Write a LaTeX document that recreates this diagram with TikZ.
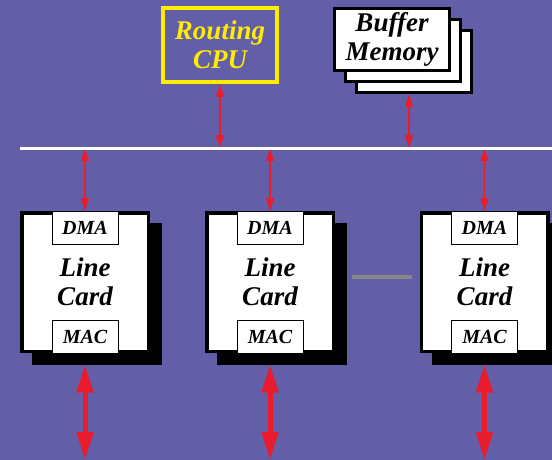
\documentclass[tikz,border=0pt]{standalone}
\usepackage{fontspec}
\setmainfont{Liberation Serif}
\usepackage{tikz}
\usetikzlibrary{arrows.meta,shapes,positioning,shadows,calc}
\usepackage{xcolor}
\definecolor{rtbg}{RGB}{99,94,168}
\definecolor{rtred}{RGB}{232,28,44}
\definecolor{rtyellow}{RGB}{255,236,0}
\definecolor{rtgray}{RGB}{136,136,136}
\tikzstyle{link} = [line width=1.2pt,{Triangle[length=13pt,width=8pt]}-{Triangle[length=13pt,width=8pt]},color=rtred]
\tikzstyle{port} = [line width=5pt,{Triangle[length=28pt,width=16pt]}-{Triangle[length=28pt,width=16pt]},color=rtred]
\tikzstyle{bigtext} = [font=\fontsize{27}{29.5}\selectfont\bfseries\itshape, align=center, inner sep=0pt]
\tikzstyle{card} = [bigtext, rectangle, draw=black, fill=white, line width=3.5pt, minimum width=126.5pt, minimum height=138.5pt,
    drop shadow={shadow xshift=12pt, shadow yshift=-11.5pt, fill=black, draw=black, opacity=1}]
\tikzstyle{unit} = [rectangle, draw=black, fill=white, line width=0.8pt, minimum width=66pt, minimum height=33pt,
    font=\fontsize{20}{22}\selectfont\bfseries\itshape, inner sep=0pt]

\begin{document}
\begin{tikzpicture}[x=1pt, y=-1pt]
    \fill[rtbg] (0,0) rectangle (552,460);
    \useasboundingbox (0,0) rectangle (552,460);

    % routing cpu and buffer memory
    \node[bigtext, rectangle, draw=rtyellow, text=rtyellow, line width=4pt, minimum width=114pt, minimum height=74pt] (cpu) at (220,45) {Routing\\CPU};
    \node[bigtext, rectangle, draw=black, fill=white, line width=3pt, minimum width=115pt, minimum height=62pt,
        copy shadow={shadow xshift=22pt, shadow yshift=-22pt, draw=black, fill=white, line width=3pt},
        copy shadow={shadow xshift=11pt, shadow yshift=-11pt, draw=black, fill=white, line width=3pt}] (mem) at (392,39.5) {Buffer\\Memory};

    % line cards
    \node[card] (card1) at (85,282) {Line\\Card};
    \node[card] (card2) at (270,282) {Line\\Card};
    \node[card] (card3) at (484.5,282) {Line\\Card};
    \foreach \c in {1,2,3} {
        \node[unit, below=0pt of card\c.north, outer sep=0pt] (dma\c) {DMA};
        \node[unit, above=0pt of card\c.south, outer sep=0pt] (mac\c) {MAC};
    }
    \node[rectangle, fill=rtgray, minimum width=60pt, minimum height=4pt, inner sep=0pt] (gap) at (382,277) {};

    % bus
    \coordinate (busL) at (20,148);
    \coordinate (busR) at (552,148);
    \coordinate (memport) at (409,94);
    \draw[link] (cpu.south) -- (cpu.south |- busL);
    \draw[link] (memport) -- (memport |- busL);
    \foreach \c in {1,2,3}
        \draw[link] (card\c.north |- busL) -- (card\c.north);
    \draw[white, line width=3pt] (busL) -- (busR);

    % external ports
    \foreach \c in {1,2,3} {
        \coordinate (out\c) at (card\c.south |- 0,460);
        \draw[port] ([yshift=-11.5pt]card\c.south) -- (out\c);
    }
\end{tikzpicture}
\end{document}
